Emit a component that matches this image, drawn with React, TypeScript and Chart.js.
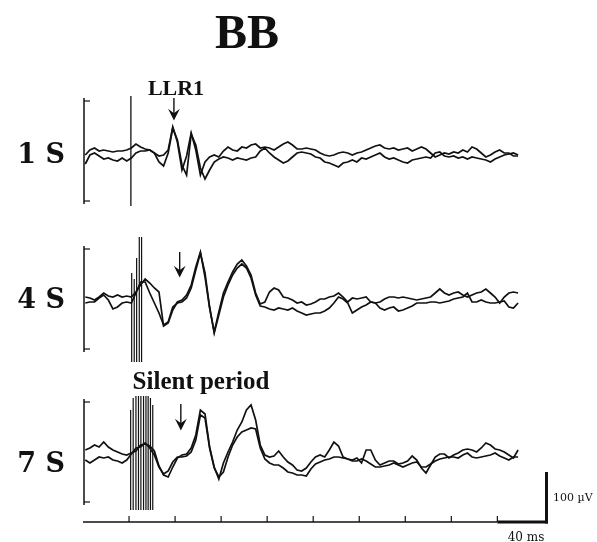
import { useEffect, useRef } from "react";
import Chart from "chart.js/auto";

// sample times (ms) for every trace
const TIMES_MS = [
  2, 6, 10, 14, 18, 22, 26, 30, 34, 38, 42, 46, 50, 54, 58, 62, 66, 70, 74, 78,
  82, 86, 90, 94, 98, 102, 106, 110, 114, 118, 122, 126, 130, 134, 138, 142, 146, 150, 154, 158,
  162, 166, 170, 174, 178, 182, 186, 190, 194, 198, 202, 206, 210, 214, 218, 222, 226, 230, 234, 238,
  242, 246, 250, 254, 258, 262, 266, 270, 274, 278, 282, 286, 290, 294, 298, 302, 306, 310, 314, 318,
  322, 326, 330, 334, 338, 342, 346, 350, 354, 358, 362, 366, 370, 374, 378,
];

// EMG traces in µV — 1 S
const S1_TRACE_A = [
  -8, 2, 6, 0, 2, 0, -2, 0, 0, 2,
  6, 14, 8, 4, 2, -4, -10, -8, 2, 48,
  18, -38, -10, 36, 2, -48, -22, -12, -8, -12,
  0, 8, 2, 0, 8, 6, 12, 14, 6, 8,
  6, 2, 8, 14, 18, 12, 4, 4, 6, 4,
  2, -4, -8, -10, -8, -4, -2, -4, -8, -4,
  -2, 2, 6, 10, 12, 6, 4, 6, 2, 4,
  6, 0, 4, 8, 4, -4, -12, -8, -4, -6,
  -2, -4, 2, -2, 8, 4, -4, -12, -8, -2,
  2, -4, -4, -10, -10,
];
const S1_TRACE_B = [
  -26, -8, -4, -10, -16, -14, -18, -20, -14, -20,
  -14, -4, 0, 0, 2, -4, -22, -30, -4, 46,
  22, -28, -48, 34, 12, -34, -56, -38, -22, -16,
  -12, -14, -18, -14, -16, -18, -14, -12, 0, 6,
  -4, -12, -18, -24, -20, -12, -4, -2, -4, -6,
  -12, -14, -22, -24, -28, -32, -24, -22, -18, -22,
  -14, -16, -12, -8, -4, -12, -16, -14, -18, -22,
  -24, -18, -16, -14, -12, -14, -4, -2, -10, -12,
  -10, -14, -12, -16, -12, -14, -16, -18, -22, -16,
  -12, -8, -6, -4, -8,
];

// 4 S
const S4_TRACE_A = [
  4, 2, -2, 4, 12, 6, 4, 8, 4, 6,
  4, 14, 28, 40, 32, 22, 14, -54, -48, -22,
  -6, -2, 8, 28, 64, 94, 44, -18, -66, -26,
  12, 34, 54, 70, 78, 66, 48, 12, -10, -6,
  14, 22, 18, 4, 2, -2, -8, -6, -12, -10,
  -6, 0, 0, 4, 6, 12, 4, -6, 2, 0,
  2, 4, -6, -8, -6, 0, 4, 4, 2, 4,
  2, 0, -2, 0, 2, 4, 12, 20, 12, 8,
  12, 14, 8, 4, 8, 12, 14, 20, 12, 4,
  -8, 4, 12, 14, 12,
];
const S4_TRACE_B = [
  -8, -6, -6, 2, 8, -2, -20, -16, -8, -6,
  -8, 12, 34, 34, 12, -8, -28, -52, -46, -16,
  -8, -6, 2, 22, 58, 92, 52, -16, -68, -32,
  4, 28, 48, 62, 70, 62, 42, 8, -14, -16,
  -20, -22, -18, -20, -22, -18, -24, -28, -32, -30,
  -28, -28, -24, -18, -8, 4, 0, -8, -28, -22,
  -16, -12, -6, -8, -18, -22, -18, -16, -24, -22,
  -18, -14, -8, -8, -8, -6, -6, -8, -6, -4,
  0, 2, 4, 12, -6, -6, -2, -6, -8, -8,
  -6, -4, -16, -18, -8,
];

// 7 S
const S7_TRACE_A = [
  4, 8, 14, 10, 20, 10, 4, 0, -4, -6,
  -2, 2, 14, 16, 12, 2, -28, -46, -50, -30,
  -12, -6, -4, 8, 34, 84, 76, 10, -30, -54,
  -22, 0, 20, 44, 60, 84, 94, 64, 14, -6,
  -10, -8, 2, -10, -20, -26, -36, -38, -32, -20,
  -10, -6, -10, 4, 20, 12, -10, -14, -16, -12,
  -22, 4, 4, -16, -26, -22, -18, -18, -24, -22,
  -18, -8, -16, -32, -42, -26, -10, -4, -4, -12,
  -6, -2, 4, 6, 4, 0, 8, 18, 14, 6,
  4, 0, -6, -12, 4,
];
const S7_TRACE_B = [
  -16, -22, -16, -10, -12, -10, -16, -18, -22, -16,
  -4, 8, 10, 18, 8, -6, -30, -44, -38, -20,
  -10, -10, -8, 0, 24, 74, 68, 8, -32, -50,
  -40, -10, 14, 30, 40, 44, 48, 46, 8, -14,
  -22, -26, -26, -32, -40, -42, -46, -46, -48, -34,
  -24, -20, -16, -14, -10, -10, -12, -14, -18, -18,
  -14, -18, -24, -30, -30, -28, -26, -22, -26, -30,
  -26, -22, -20, -30, -30, -24, -18, -14, -12, -10,
  -10, -12, -6, -2, -10, -12, -10, -8, -6, -2,
  -8, -12, -16, -10, -10,
];

// stimulus artefacts: times (ms), top and bottom (µV)
const S1_STIM_T = [41.6];
const S1_STIM_TOP = [110];
const S1_STIM_BOTTOM = [-110];
const S4_STIM_T = [42.3, 44.5, 46.6, 48.9, 50.9];
const S4_STIM_TOP = [52, 40, 82, 124, 124];
const S4_STIM_BOTTOM = [-126, -126, -126, -126, -126];
const S7_STIM_T = [41.4, 43.6, 46.0, 48.2, 50.3, 52.6, 54.7, 56.6, 58.6, 60.6];
const S7_STIM_TOP = [84, 108, 112, 112, 112, 112, 112, 112, 108, 94];
const S7_STIM_BOTTOM = [-116, -116, -116, -116, -116, -116, -116, -116, -116, -116];

const PANEL_LABELS = ["1 S", "4 S", "7 S"];
const TITLE = "BB";
const X_TICKS_MS = [40, 80, 120, 160, 200, 240, 280, 320, 360];
const AXIS_TICK_UV = [100, -100];
const SCALE_BAR_MS_START = 360;
const SCALE_BAR_MS_END = 404;
const SCALE_BAR_UV = 100;

const INK = "#111111";

function traceData(values: number[]) {
  return values.map((v, i) => ({ x: TIMES_MS[i], y: v }));
}
function stimData(t: number[], top: number[], bottom: number[]) {
  const out: { x: number; y: number | null }[] = [];
  t.forEach((tt, i) => {
    out.push({ x: tt, y: top[i] });
    out.push({ x: tt, y: bottom[i] });
    out.push({ x: tt, y: null });
  });
  return out;
}

const overlayPlugin = {
  id: "overlay",
  afterDatasetsDraw(chart: any) {
    const ctx = chart.ctx as CanvasRenderingContext2D;
    const xs = chart.scales.x;
    const yAxes = [chart.scales.y1, chart.scales.y2, chart.scales.y3];
    const area = chart.chartArea;
    ctx.save();
    ctx.strokeStyle = INK;
    ctx.fillStyle = INK;
    ctx.lineCap = "butt";

    // per-panel vertical axes
    const x0 = xs.getPixelForValue(0) + 1;
    yAxes.forEach((ys: any) => {
      ctx.lineWidth = 1.5;
      ctx.beginPath();
      ctx.moveTo(x0, ys.getPixelForValue(106));
      ctx.lineTo(x0, ys.getPixelForValue(-106));
      ctx.stroke();
      ctx.lineWidth = 1.2;
      AXIS_TICK_UV.forEach((v) => {
        const py = ys.getPixelForValue(v);
        ctx.beginPath();
        ctx.moveTo(x0, py);
        ctx.lineTo(x0 + 6, py);
        ctx.stroke();
      });
    });

    // bottom time axis
    const yb = area.bottom;
    ctx.lineWidth = 1.5;
    ctx.beginPath();
    ctx.moveTo(xs.getPixelForValue(0), yb);
    ctx.lineTo(xs.getPixelForValue(SCALE_BAR_MS_START), yb);
    ctx.stroke();
    ctx.lineWidth = 1.2;
    X_TICKS_MS.forEach((t) => {
      const px = xs.getPixelForValue(t);
      ctx.beginPath();
      ctx.moveTo(px, yb);
      ctx.lineTo(px, yb - 6);
      ctx.stroke();
    });

    // scale bars
    const y3 = chart.scales.y3;
    const barRight = xs.getPixelForValue(SCALE_BAR_MS_END);
    ctx.lineWidth = 3;
    ctx.beginPath();
    ctx.moveTo(xs.getPixelForValue(SCALE_BAR_MS_START), yb);
    ctx.lineTo(barRight, yb);
    ctx.stroke();
    const uvPx = y3.getPixelForValue(0) - y3.getPixelForValue(SCALE_BAR_UV);
    ctx.beginPath();
    ctx.moveTo(barRight - 1.5, yb + 1.5);
    ctx.lineTo(barRight - 1.5, yb - uvPx);
    ctx.stroke();

    // arrows
    const arrow = (t: number, ys: any, from: number, to: number) => {
      const px = xs.getPixelForValue(t);
      const p1 = ys.getPixelForValue(from);
      const p2 = ys.getPixelForValue(to);
      ctx.lineWidth = 1.4;
      ctx.beginPath();
      ctx.moveTo(px, p1);
      ctx.lineTo(px, p2 - 5);
      ctx.stroke();
      ctx.beginPath();
      ctx.moveTo(px - 4, p2 - 8);
      ctx.lineTo(px, p2);
      ctx.lineTo(px + 4, p2 - 8);
      ctx.lineTo(px, p2 - 5);
      ctx.closePath();
      ctx.fill();
      ctx.stroke();
    };
    arrow(79, yAxes[0], 106, 64);
    arrow(84, yAxes[1], 94, 46);
    arrow(85, yAxes[2], 96, 46);

    // texts
    ctx.textBaseline = "alphabetic";
    ctx.textAlign = "center";
    ctx.font = "bold 48px 'Liberation Serif', serif";
    ctx.fillText(TITLE, 247, 48);
    ctx.font = "bold 22px 'Liberation Serif', serif";
    ctx.fillText("LLR1", 176, 95);
    ctx.font = "bold 25px 'Liberation Serif', serif";
    ctx.fillText("Silent period", 201, 389);

    ctx.textAlign = "right";
    ctx.font = "bold 27px 'DejaVu Serif', serif";
    const labelBase = [163, 308, 472];
    PANEL_LABELS.forEach((lab, i) => ctx.fillText(lab, 65, labelBase[i]));

    ctx.textAlign = "left";
    ctx.font = "11px 'DejaVu Serif', serif";
    ctx.fillText("100 µV", 553, 501);
    ctx.textAlign = "center";
    ctx.font = "12px 'DejaVu Serif', serif";
    ctx.fillText("40 ms", 526, 541);
    ctx.restore();
  },
};

export default function App() {
  const ref = useRef<HTMLCanvasElement | null>(null);
  useEffect(() => {
    if (!ref.current) return;
    const line = (data: any[], axis: string, w = 1.7) => ({
      data,
      yAxisID: axis,
      borderColor: INK,
      borderWidth: w,
      pointRadius: 0,
      tension: 0,
      fill: false,
      spanGaps: false,
      clip: false as any,
    });
    const chart = new Chart(ref.current, {
      type: "line",
      data: {
        datasets: [
          line(traceData(S1_TRACE_A), "y1"),
          line(traceData(S1_TRACE_B), "y1"),
          line(stimData(S1_STIM_T, S1_STIM_TOP, S1_STIM_BOTTOM), "y1", 1.3),
          line(traceData(S4_TRACE_A), "y2"),
          line(traceData(S4_TRACE_B), "y2"),
          line(stimData(S4_STIM_T, S4_STIM_TOP, S4_STIM_BOTTOM), "y2", 1.2),
          line(traceData(S7_TRACE_A), "y3"),
          line(traceData(S7_TRACE_B), "y3"),
          line(stimData(S7_STIM_T, S7_STIM_TOP, S7_STIM_BOTTOM), "y3", 1.2),
        ] as any,
      },
      options: {
        animation: false,
        responsive: false,
        devicePixelRatio: 1,
        layout: { padding: { left: 83, right: 49, top: 95, bottom: 20 } },
        plugins: { legend: { display: false }, tooltip: { enabled: false } },
        scales: {
          x: { type: "linear", min: 0, max: 404, display: false },
          y1: { type: "linear", min: -742, max: 112, display: false },
          y2: { type: "linear", min: -446, max: 408, display: false },
          y3: { type: "linear", min: -140, max: 714, display: false },
        },
      },
      plugins: [overlayPlugin],
    });
    return () => chart.destroy();
  }, []);
  return (
    <div style={{ position: "fixed", left: 0, top: 0, width: 597, height: 542, background: "#fff" }}>
      <canvas ref={ref} width={597} height={542} style={{ width: 597, height: 542 }} />
    </div>
  );
}
